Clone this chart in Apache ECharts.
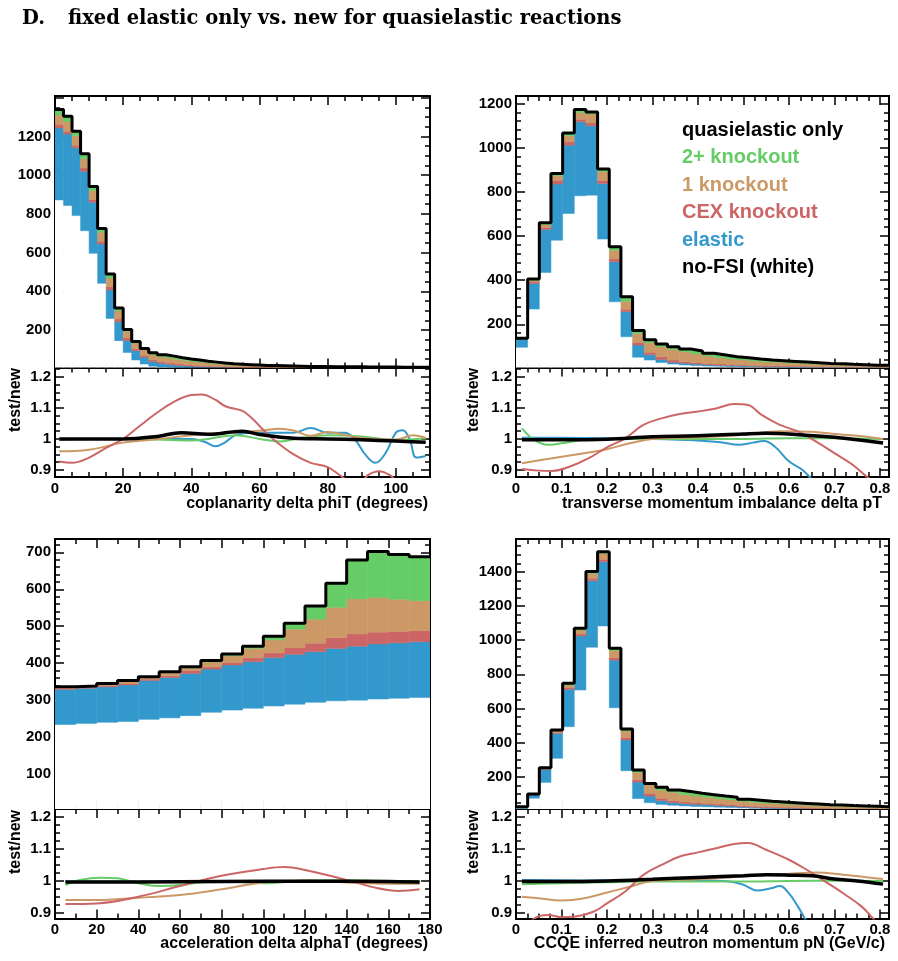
<!DOCTYPE html>
<html>
<head>
<meta charset="utf-8">
<script src="https://cdn.jsdelivr.net/npm/echarts@6/dist/echarts.min.js"></script>
<style>
html, body { margin: 0; padding: 0; background: #fff; }
#main { width: 898px; height: 961px; }
</style>
</head>
<body>
<div id="main"></div>
<script>
// ---- data ----
// stacked layers, bottom to top: no-FSI (white), elastic, CEX knockout, 1 knockout, 2+ knockout

// coplanarity delta phiT, 44 bins of 2.5 deg
var phiWhite = [872,843,791,713,596,441,260,145,84,45,24,13,9,7,5,4,3,3,2,2,2,1,1,1,1,1,1,1,1,1,1,1,1,1,1,1,1,1,1,1,1,1,1,1];
var phiElastic = [372,370,350,307,264,203,147,98,61,48,35,24,19,15,12,10,9,7,6,5,4,4,3,3,3,2,2,2,2,2,2,1,1,1,1,1,1,1,1,1,1,1,1,1];
var phiCex = [19,14,13,17,14,14,17,14,14,10,10,9,8,8,7,6,6,5,5,4,4,3,3,3,2,2,2,2,2,1,1,1,1,1,1,1,1,1,1,1,1,1,1,1];
var phiOne = [48,50,50,48,46,47,45,43,34,30,28,26,26,25,23,21,19,17,15,13,11,10,10,9,8,8,7,7,6,6,6,6,5,5,5,5,4,4,4,4,4,4,4,4];
var phiTwo = [28,27,23,25,22,19,20,14,10,8,8,11,10,10,10,9,8,7,6,5,4,5,4,3,3,3,3,2,2,2,2,2,2,2,2,2,2,2,2,2,1,1,1,1];

// transverse momentum imbalance delta pT, 32 bins over 0..0.82
var ptWhite = [96,269,435,581,702,782,785,586,302,144,51,38,27,20,16,13,11,10,9,8,7,6,6,5,5,4,4,4,3,3,3,3];
var ptElastic = [38,116,195,254,309,335,314,252,181,113,55,24,14,8,8,7,6,5,4,4,3,3,3,3,2,2,2,2,2,1,1,1];
var ptCex = [1,7,9,18,16,12,13,13,13,11,13,12,12,10,7,6,6,5,5,4,4,3,3,3,3,2,2,2,2,2,1,1];
var ptOne = [2,8,13,21,27,30,40,40,40,37,40,43,46,49,45,40,34,29,25,23,20,18,16,14,13,12,10,9,8,7,7,7];
var ptTwo = [0,5,8,9,13,14,10,12,15,20,13,13,12,12,12,13,12,12,10,10,9,8,7,7,6,6,5,5,4,4,3,3];

// acceleration delta alphaT, 18 bins of 10 deg
var alphaWhite = [234,237,240,242,248,252,258,267,273,278,284,289,294,298,300,303,305,307];
var alphaElastic = [95,95,96,99,105,109,114,117,122,126,131,135,137,142,146,149,150,151];
var alphaCex = [3,3,4,4,4,5,8,6,7,11,13,18,23,29,33,32,31,30];
var alphaOne = [3,2,3,6,4,8,7,13,18,25,35,50,65,82,95,94,87,81];
var alphaTwo = [1,1,2,2,2,3,3,4,5,6,10,16,36,65,105,124,121,119];

// CCQE inferred neutron momentum pN, 32 bins over 0..0.82
var pnWhite = [15,74,167,308,493,708,958,1083,604,235,72,48,38,33,29,26,24,22,20,18,16,14,13,12,11,10,9,8,8,7,7,6];
var pnElastic = [8,19,76,146,219,316,390,376,279,180,97,39,22,15,13,12,12,9,8,6,5,5,4,4,4,3,3,3,2,2,2,2];
var pnCex = [1,2,3,6,11,12,14,14,14,14,14,16,14,12,10,10,8,9,8,7,6,6,5,5,4,4,4,3,3,3,3,2];
var pnOne = [1,3,5,10,14,23,29,35,41,39,43,49,48,49,45,39,36,31,29,25,23,21,20,18,17,15,13,13,12,11,10,10];
var pnTwo = [0,1,2,4,10,10,10,10,14,12,14,9,16,13,16,16,15,16,15,12,12,10,10,9,8,8,7,7,6,6,5,5];

// ratio test/new curves, [x, ratio]
var phiRatioElastic = [[1.25,1.0],[30,1.0],[40,1.0],[44,0.99],[47,0.976],[50,0.99],[53,1.012],[58,1.02],[65,1.02],[70,1.02],[75,1.035],[80,1.02],[85,1.02],[88,0.998],[91,0.95],[94,0.923],[97,0.955],[100,1.02],[102,1.028],[104,1.0],[106,0.94],[108.75,0.945]];
var phiRatioTwo = [[1.25,0.997],[10,1.0],[20,1.0],[30,0.998],[40,0.995],[45,1.0],[53,1.012],[60,1.0],[66,0.992],[72,1.003],[80,1.012],[90,1.008],[100,0.997],[108.75,1.002]];
var phiRatioOne = [[1.25,0.96],[10,0.965],[20,0.988],[30,0.999],[40,1.012],[50,1.02],[60,1.026],[66,1.033],[70,1.027],[75,1.01],[80,1.022],[85,1.013],[90,1.003],[95,1.0],[100,0.998],[105,1.012],[108.75,1.003]];
var phiRatioCex = [[1.25,0.927],[5,0.923],[10,0.94],[15,0.971],[20,1.0],[25,1.043],[30,1.085],[35,1.12],[40,1.141],[43,1.143],[47,1.126],[50,1.105],[55,1.09],[58,1.064],[61,1.03],[65,0.99],[70,0.95],[75,0.923],[80,0.909],[84,0.88],[87,0.86],[90,0.865],[92,0.885],[95,0.896],[98,0.885],[101,0.86],[108.75,0.84]];
var phiRatioAll = [[1.25,1.0],[10,1.0],[20,1.0],[30,1.008],[37,1.02],[45,1.015],[55,1.025],[60,1.014],[70,1.002],[80,1.0],[90,0.997],[100,0.993],[108.75,0.989]];

var ptRatioElastic = [[0.013,1.004],[0.1,1.004],[0.2,1.002],[0.3,1.0],[0.4,0.995],[0.45,0.989],[0.49,0.981],[0.52,0.988],[0.545,0.993],[0.57,0.974],[0.6,0.928],[0.63,0.9],[0.65,0.87],[0.67,0.84]];
var ptRatioTwo = [[0.013,1.034],[0.04,0.997],[0.07,0.981],[0.1,0.986],[0.15,0.997],[0.2,1.0],[0.4,1.0],[0.5,1.0],[0.6,1.002],[0.7,1.002],[0.807,1.0]];
var ptRatioOne = [[0.013,0.922],[0.08,0.938],[0.15,0.954],[0.2,0.967],[0.25,0.986],[0.3,1.0],[0.4,1.005],[0.5,1.013],[0.58,1.025],[0.65,1.023],[0.7,1.016],[0.75,1.01],[0.807,1.0]];
var ptRatioCex = [[0.013,0.903],[0.05,0.898],[0.08,0.897],[0.12,0.912],[0.16,0.938],[0.2,0.973],[0.24,1.002],[0.28,1.045],[0.32,1.066],[0.36,1.08],[0.4,1.088],[0.44,1.098],[0.48,1.112],[0.51,1.109],[0.54,1.077],[0.58,1.045],[0.62,1.024],[0.66,0.991],[0.7,0.954],[0.74,0.917],[0.77,0.88],[0.807,0.84]];
var ptRatioAll = [[0.013,0.997],[0.1,0.997],[0.2,0.999],[0.3,1.007],[0.4,1.01],[0.5,1.016],[0.55,1.018],[0.6,1.016],[0.7,1.005],[0.75,0.997],[0.807,0.987]];

var alphaRatioElastic = [[5,0.998],[60,0.998],[120,1.0],[175,0.998]];
var alphaRatioTwo = [[5,0.987],[12,1.003],[22,1.01],[30,1.008],[40,0.993],[50,0.984],[60,0.987],[70,0.996],[80,0.998],[100,0.993],[120,1.001],[140,1.002],[160,1.0],[175,1.0]];
var alphaRatioOne = [[5,0.941],[20,0.941],[40,0.948],[60,0.956],[80,0.974],[100,0.995],[120,1.001],[140,0.995],[160,0.991],[175,0.991]];
var alphaRatioCex = [[5,0.928],[20,0.93],[40,0.951],[60,0.984],[80,1.016],[100,1.037],[110,1.043],[120,1.034],[140,1.003],[155,0.977],[165,0.969],[175,0.974]];
var alphaRatioAll = [[5,0.997],[40,0.997],[80,0.998],[120,0.999],[160,0.998],[175,0.997]];

var pnRatioElastic = [[0.013,1.003],[0.2,1.001],[0.3,1.0],[0.4,1.001],[0.47,0.998],[0.5,0.988],[0.53,0.97],[0.56,0.977],[0.58,0.984],[0.6,0.961],[0.62,0.92],[0.635,0.883],[0.65,0.85]];
var pnRatioTwo = [[0.013,0.99],[0.1,0.993],[0.2,0.996],[0.3,0.998],[0.5,0.998],[0.6,1.0],[0.7,1.001],[0.807,1.0]];
var pnRatioOne = [[0.013,0.951],[0.05,0.946],[0.1,0.939],[0.15,0.946],[0.2,0.964],[0.25,0.982],[0.3,1.0],[0.4,1.005],[0.5,1.014],[0.6,1.022],[0.66,1.026],[0.72,1.019],[0.78,1.01],[0.807,1.006]];
var pnRatioCex = [[0.013,0.84],[0.04,0.883],[0.07,0.894],[0.1,0.887],[0.13,0.889],[0.17,0.904],[0.2,0.93],[0.24,0.967],[0.28,1.019],[0.32,1.05],[0.36,1.076],[0.4,1.089],[0.44,1.102],[0.48,1.115],[0.51,1.118],[0.55,1.097],[0.6,1.066],[0.64,1.034],[0.68,0.998],[0.72,0.961],[0.76,0.92],[0.785,0.883],[0.807,0.85]];
var pnRatioAll = [[0.013,0.998],[0.1,0.998],[0.2,1.0],[0.3,1.005],[0.4,1.011],[0.5,1.016],[0.55,1.019],[0.6,1.018],[0.65,1.016],[0.7,1.006],[0.75,1.0],[0.807,0.99]];

// tick labels
var phiLabels = [0, 20, 40, 60, 80, 100];
var momLabels = [0, 0.1, 0.2, 0.3, 0.4, 0.5, 0.6, 0.7, 0.8];
var alphaLabels = [0, 20, 40, 60, 80, 100, 120, 140, 160, 180];
var phiCountLabels = [200, 400, 600, 800, 1000, 1200];
var ptCountLabels = [200, 400, 600, 800, 1000, 1200];
var alphaCountLabels = [100, 200, 300, 400, 500, 600, 700];
var pnCountLabels = [200, 400, 600, 800, 1000, 1200, 1400];
var ratioLabels = [0.9, 1, 1.1, 1.2];

var layerNames = ['no-FSI (white)', 'elastic', 'CEX knockout', '1 knockout', '2+ knockout'];
var layerColors = ['#ffffff', '#3399cc', '#cc6666', '#cc9966', '#66cc66'];
var FONT = '"Liberation Sans", Arial, sans-serif';
var TITLE_FONT = '"DejaVu Serif", serif';

var myChart = echarts.init(document.getElementById('main'));

var option = {
    animation: false,
    backgroundColor: '#ffffff',
    title: [
        { text: 'D.', left: 22, top: 9, padding: 0,
          textStyle: { fontFamily: TITLE_FONT, fontWeight: 'bold', fontSize: 19.5, color: '#000' } },
        { text: 'fixed elastic only vs. new for quasielastic reactions', left: 68, top: 9, padding: 0,
          textStyle: { fontFamily: TITLE_FONT, fontWeight: 'bold', fontSize: 19.5, color: '#000' } }
    ],
    legend: {
        orient: 'vertical', left: 677, top: 120, padding: 0,
        icon: 'rect', itemWidth: 0, itemHeight: 20, itemGap: 7.5, selectedMode: false,
        itemStyle: { borderWidth: 0 },
        textStyle: { fontFamily: FONT, fontWeight: 'bold', fontSize: 20, lineHeight: 20 },
        data: [
            { name: 'quasielastic only', textStyle: { color: '#000000' } },
            { name: '2+ knockout', textStyle: { color: '#66cc66' } },
            { name: '1 knockout', textStyle: { color: '#cc9966' } },
            { name: 'CEX knockout', textStyle: { color: '#cc6666' } },
            { name: 'elastic', textStyle: { color: '#3399cc' } },
            { name: 'no-FSI (white)', textStyle: { color: '#000000' } }
        ]
    },
    grid: [], xAxis: [], yAxis: [], series: [], graphic: []
};

function steps(a, b, step) {
    var out = [];
    for (var i = 0; a + i * step <= b + 1e-9; i++) out.push(+(a + i * step).toFixed(4));
    return out;
}

function axis(gi, r, pos, ticks, len, labels) {
    var inside = ticks.filter(function (v) { return v >= r[0] - 1e-9 && v <= r[1] + 1e-9; });
    return {
        type: 'value', gridIndex: gi, position: pos, min: r[0], max: r[1],
        axisLine: { show: true, onZero: false, lineStyle: { color: '#000', width: 2 } },
        axisTick: { show: true, inside: true, length: len, customValues: inside,
                    lineStyle: { color: '#000', width: 1.5 } },
        axisLabel: labels ? { show: true, customValues: labels, margin: 4, color: '#000',
                              fontFamily: FONT, fontWeight: 'bold', fontSize: 15,
                              formatter: function (v) { return String(v); } } : { show: false },
        splitLine: { show: false }
    };
}

function addPad(box, xr, yr, xMaj, xMin, yMaj, yMin, xLabels, yLabels) {
    var gi = option.grid.length;
    option.grid.push({ left: box[0], top: box[1], width: box[2], height: box[3],
                       containLabel: false, outerBoundsMode: 'none' });
    var xi = option.xAxis.length, yi = option.yAxis.length;
    option.xAxis.push(axis(gi, xr, 'bottom', xMaj, 9, xLabels));
    option.xAxis.push(axis(gi, xr, 'bottom', xMin, 5, null));
    option.xAxis.push(axis(gi, xr, 'top', xMaj, 9, null));
    option.xAxis.push(axis(gi, xr, 'top', xMin, 5, null));
    option.yAxis.push(axis(gi, yr, 'left', yMaj, 9, yLabels));
    option.yAxis.push(axis(gi, yr, 'left', yMin, 5, null));
    option.yAxis.push(axis(gi, yr, 'right', yMaj, 9, null));
    option.yAxis.push(axis(gi, yr, 'right', yMin, 5, null));
    return { x: xi, y: yi };
}

function renderBin(params, api) {
    var p0 = api.coord([api.value(0), api.value(2)]);
    var p1 = api.coord([api.value(1), api.value(3)]);
    var c = api.visual('color');
    return {
        type: 'rect',
        shape: { x: p0[0], y: p1[1], width: p1[0] - p0[0], height: p0[1] - p1[1] },
        style: { fill: c, stroke: c, lineWidth: 0.5 }
    };
}

function addHist(ax, lo, width, layers) {
    var n = layers[0].length;
    var cum = [];
    for (var i = 0; i < n; i++) cum.push(0);
    layers.forEach(function (vals, k) {
        var data = vals.map(function (v, i) {
            var d = [lo + i * width, lo + (i + 1) * width, cum[i], cum[i] + v];
            cum[i] += v;
            return d;
        });
        option.series.push({
            type: 'custom', name: layerNames[k], xAxisIndex: ax.x, yAxisIndex: ax.y,
            clip: true, renderItem: renderBin, itemStyle: { color: layerColors[k] },
            encode: { x: [0, 1], y: [2, 3] }, data: data
        });
    });
    var outline = cum.map(function (t, i) { return [lo + i * width, t]; });
    outline.push([lo + n * width, cum[n - 1]]);
    option.series.push({
        type: 'line', name: 'quasielastic only', xAxisIndex: ax.x, yAxisIndex: ax.y,
        step: 'end', symbol: 'none', clip: true, data: outline,
        itemStyle: { color: '#000' }, lineStyle: { color: '#000', width: 3 }
    });
}

function addRatio(ax, curves) {
    var colors = ['#3399cc', '#66cc66', '#cc9966', '#cc6666', '#000000'];
    var names = ['elastic', '2+ knockout', '1 knockout', 'CEX knockout', 'quasielastic only'];
    curves.forEach(function (pts, k) {
        option.series.push({
            type: 'line', name: names[k], xAxisIndex: ax.x, yAxisIndex: ax.y,
            smooth: 0.4, symbol: 'none', clip: true, data: pts,
            itemStyle: { color: colors[k] },
            lineStyle: { color: colors[k], width: k === 4 ? 3.5 : 2 }
        });
    });
}

function addText(x, y, text, align, rot) {
    option.graphic.push({
        type: 'text', x: x, y: y, rotation: rot || 0, silent: true,
        style: { text: text, align: align, verticalAlign: 'middle', fill: '#000',
                 fontFamily: FONT, fontWeight: 'bold', fontSize: 16 }
    });
}

var ratioMinor = steps(0.9, 1.225, 0.025);

// top-left: coplanarity
var a1 = addPad([55, 96, 375, 271.5], [0, 110], [6.2, 1409], phiLabels, steps(0, 110, 5),
                steps(0, 1400, 200), steps(0, 1400, 50), null, phiCountLabels);
addHist(a1, 0, 2.5, [phiWhite, phiElastic, phiCex, phiOne, phiTwo]);
var r1 = addPad([55, 367.5, 375, 109.5], [0, 110], [0.8775, 1.2296], phiLabels, steps(0, 110, 5),
                ratioLabels, ratioMinor, phiLabels, ratioLabels);
addRatio(r1, [phiRatioElastic, phiRatioTwo, phiRatioOne, phiRatioCex, phiRatioAll]);

// top-right: delta pT
var a2 = addPad([516, 96, 373, 271.5], [0, 0.82], [4.5, 1234], momLabels, steps(0, 0.82, 0.025),
                steps(0, 1200, 200), steps(0, 1200, 40), null, ptCountLabels);
addHist(a2, 0, 0.82 / 32, [ptWhite, ptElastic, ptCex, ptOne, ptTwo]);
var r2 = addPad([516, 367.5, 373, 109.5], [0, 0.82], [0.8775, 1.2296], momLabels, steps(0, 0.82, 0.025),
                ratioLabels, ratioMinor, momLabels, ratioLabels);
addRatio(r2, [ptRatioElastic, ptRatioTwo, ptRatioOne, ptRatioCex, ptRatioAll]);

// bottom-left: delta alphaT
var a3 = addPad([55, 539, 375, 270], [0, 180], [5.4, 736], alphaLabels, steps(0, 180, 10),
                steps(0, 700, 100), steps(0, 720, 20), null, alphaCountLabels);
addHist(a3, 0, 10, [alphaWhite, alphaElastic, alphaCex, alphaOne, alphaTwo]);
var r3 = addPad([55, 809, 375, 109.5], [0, 180], [0.883, 1.224], alphaLabels, steps(0, 180, 10),
                ratioLabels, ratioMinor, alphaLabels, ratioLabels);
addRatio(r3, [alphaRatioElastic, alphaRatioTwo, alphaRatioOne, alphaRatioCex, alphaRatioAll]);

// bottom-right: pN
var a4 = addPad([516, 539, 373, 270], [0, 0.82], [11.1, 1592], momLabels, steps(0, 0.82, 0.025),
                steps(0, 1400, 200), steps(0, 1550, 50), null, pnCountLabels);
addHist(a4, 0, 0.82 / 32, [pnWhite, pnElastic, pnCex, pnOne, pnTwo]);
var r4 = addPad([516, 809, 373, 109.5], [0, 0.82], [0.883, 1.224], momLabels, steps(0, 0.82, 0.025),
                ratioLabels, ratioMinor, momLabels, ratioLabels);
addRatio(r4, [pnRatioElastic, pnRatioTwo, pnRatioOne, pnRatioCex, pnRatioAll]);

// axis titles
addText(428, 504, 'coplanarity delta phiT (degrees)', 'right');
addText(882, 504, 'transverse momentum imbalance delta pT', 'right');
addText(428, 944, 'acceleration delta alphaT (degrees)', 'right');
addText(885, 944, 'CCQE inferred neutron momentum pN (GeV/c)', 'right');
addText(15.5, 368, 'test/new', 'right', Math.PI / 2);
addText(474, 368, 'test/new', 'right', Math.PI / 2);
addText(15.5, 810, 'test/new', 'right', Math.PI / 2);
addText(474, 810, 'test/new', 'right', Math.PI / 2);

myChart.setOption(option);
</script>
</body>
</html>
